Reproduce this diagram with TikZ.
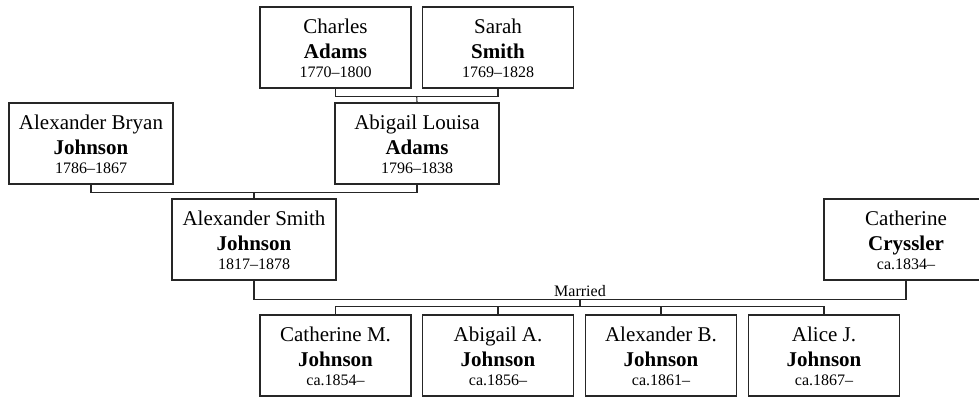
\documentclass[tikz,border=0pt]{standalone}
\usepackage{fontspec}
\setmainfont{Liberation Serif}
\usetikzlibrary{calc}
\tikzset{
  pbox/.style={draw=black!85, line width=1.1pt, rectangle, minimum height=81pt, inner sep=0pt, fill=white},
  namefont/.style={font=\fontsize{21}{25}\selectfont, inner sep=0pt},
  yearfont/.style={font=\fontsize{16}{19}\selectfont, inner sep=0pt},
  conn/.style={draw=black!85, line width=1.1pt},
}
\newcommand\pers[7]{%
  \node[pbox, minimum width=#4pt] (#1) at (#2,#3) {};
  \node[namefont, anchor=base] (#1-a) at ($(#1.north)+(0,27)$) {#5};
  \node[namefont, anchor=base] (#1-b) at ($(#1.north)+(0,52)$) {\textbf{#6}};
  \node[yearfont, anchor=base] (#1-c) at ($(#1.north)+(0,71)$) {#7};
}
\begin{document}
\begin{tikzpicture}[x=1pt, y=-1pt]
\useasboundingbox (0,0) rectangle (979,396);
% connectors first (boxes drawn over them)
\pers{ca}{335.5}{47.5}{151}{Charles}{Adams}{1770--1800}
\pers{ss}{498}{47.5}{151}{Sarah}{Smith}{1769--1828}
\pers{ab}{91}{143.5}{164}{Alexander Bryan}{Johnson}{1786--1867}
\pers{al}{417}{143.5}{164}{Abigail Louisa}{Adams}{1796--1838}
\pers{as}{254}{239.5}{164}{Alexander Smith}{Johnson}{1817--1878}
\pers{cc}{906}{239.5}{164}{Catherine}{Cryssler}{ca.1834--}
\pers{c1}{335.5}{355.5}{151}{Catherine M.}{Johnson}{ca.1854--}
\pers{c2}{498}{355.5}{151}{Abigail A.}{Johnson}{ca.1856--}
\pers{c3}{661}{355.5}{151}{Alexander B.}{Johnson}{ca.1861--}
\pers{c4}{824}{355.5}{151}{Alice J.}{Johnson}{ca.1867--}
% first couple
\draw[conn] (ca.south) -- ++(0,8) -| (ss.south);
\coordinate (m1) at ($(ca.south)!0.5!(ss.south)+(0,8)$);
\draw[conn] (m1) -- (al.north);
% second couple
\draw[conn] (ab.south) -- ++(0,8) -| (al.south);
\coordinate (m2) at ($(ab.south)!0.5!(al.south)+(0,8)$);
\draw[conn] (m2) -- (as.north);
% third couple
\draw[conn] (as.south) -- ++(0,19) -| (cc.south);
\coordinate (m3) at ($(as.south)!0.5!(cc.south)$);
\coordinate (m3) at (m3 |- 0,299);
\node[yearfont, anchor=base] (mar) at ($(m3)+(0,-3)$) {Married};
\draw[conn] (m3) -- ++(0,8);
\draw[conn] (c1.north) -- ++(0,-8) -| (c4.north);
\draw[conn] (c2.north) -- ++(0,-8);
\draw[conn] (c3.north) -- ++(0,-8);
\end{tikzpicture}
\end{document}
